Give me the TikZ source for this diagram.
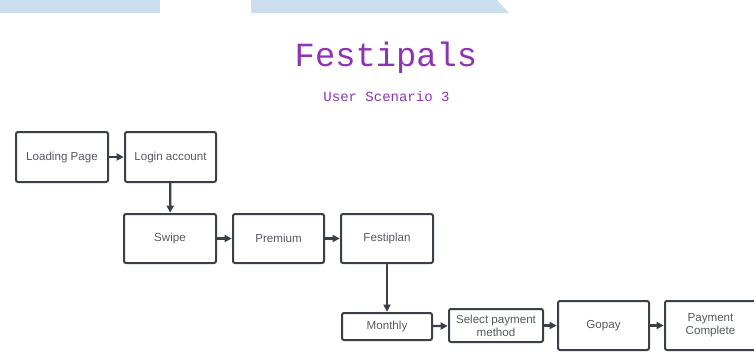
\documentclass[tikz,border=0pt]{standalone}
\usepackage{fontspec}
\setmainfont{Liberation Sans}
\newfontfamily\titlemono{Liberation Mono}
\usetikzlibrary{arrows.meta}
\definecolor{barblue}{HTML}{CCDDEC}
\definecolor{titlepurple}{HTML}{8E33B3}
\definecolor{boxline}{HTML}{3B4048}
\definecolor{boxtext}{HTML}{555A60}
\tikzset{
  stepbox/.style={draw=boxline, line width=2pt, rounded corners=2pt, inner sep=1pt,
    text=boxtext, font=\fontsize{11.6}{12.8}\selectfont, align=center, fill=white},
  flow/.style={draw=boxline, line width=2.2pt, -{Triangle[length=7pt,width=7pt]}, shorten >=0.3pt}
}
\begin{document}
\begin{tikzpicture}[x=1pt,y=-1pt]
\useasboundingbox (0,0) rectangle (754,351);
% top bars
\fill[barblue] (0,0) rectangle (160,13);
\fill[barblue] (251,0) -- (497,0) -- (509,13) -- (251,13) -- cycle;
% titles
\node[text=titlepurple, font=\titlemono\fontsize{33.8}{36}\selectfont] (title) at (386,58) {Festipals};
\node[text=titlepurple, font=\titlemono\fontsize{14}{16}\selectfont] (sub) at (386.5,96) {User Scenario 3};
% boxes
\node[stepbox, minimum width=92pt, minimum height=50pt] (load) at (62,157) {Loading Page};
\node[stepbox, minimum width=91pt, minimum height=50pt] (login) at (170.5,157) {Login account};
\node[stepbox, minimum width=92pt, minimum height=49pt] (swipe) at (170,238.5) {Swipe};
\node[stepbox, minimum width=91pt, minimum height=49pt] (prem) at (278.5,238.5) {Premium};
\node[stepbox, minimum width=92pt, minimum height=49pt] (fplan) at (387,238.5) {Festiplan};
\node[stepbox, minimum width=90pt, minimum height=27pt] (month) at (387,326.5) {Monthly};
\node[stepbox, minimum width=94pt, minimum height=33pt] (select) at (496,325.5) {Select payment\\method};
\node[stepbox, minimum width=91pt, minimum height=49pt] (gopay) at (603.5,325.5) {Gopay};
\node[stepbox, minimum width=91pt, minimum height=49pt] (done) at (710.5,325.5) {Payment\\Complete};
% connectors
\draw[flow] (load) -- (login);
\draw[flow] (login) -- (swipe);
\draw[flow] (swipe) -- (prem);
\draw[flow] (prem) -- (fplan);
\draw[flow] (fplan) -- (month);
\draw[flow] (month) -- (select);
\draw[flow] (select) -- (gopay);
\draw[flow] (gopay) -- (done);
\end{tikzpicture}
\end{document}
